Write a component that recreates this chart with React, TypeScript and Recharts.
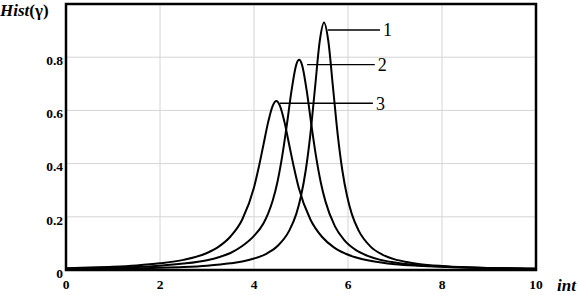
import React from 'react';
import { LineChart, Line, XAxis, YAxis, CartesianGrid, ReferenceArea, ReferenceLine } from 'recharts';

const xTicks = [0, 2, 4, 6, 8, 10];
const yTicks = [0, 0.2, 0.4, 0.6, 0.8];

const s1x = [0, 0.5, 1, 1.5, 2, 2.5, 3, 3.5, 3.75, 4, 4.25, 4.5, 4.75, 4.9, 5.0, 5.1, 5.2, 5.3, 5.4, 5.49, 5.58, 5.68, 5.78, 5.88, 5.98, 6.08, 6.23, 6.48, 6.73, 6.98, 7.25, 7.5, 8, 8.5, 9, 10];
const s1y = [0.0032, 0.0038, 0.0047, 0.006, 0.008, 0.011, 0.016, 0.025, 0.032, 0.043, 0.06, 0.09, 0.148, 0.211, 0.278, 0.374, 0.511, 0.688, 0.862, 0.93, 0.862, 0.688, 0.511, 0.374, 0.278, 0.211, 0.147, 0.088, 0.058, 0.041, 0.03, 0.023, 0.015, 0.0103, 0.0076, 0.0046];

const s2x = [0, 0.5, 1, 1.5, 2, 2.5, 3, 3.25, 3.5, 3.75, 4, 4.2, 4.3, 4.4, 4.5, 4.6, 4.7, 4.8, 4.9, 4.96, 5.02, 5.12, 5.22, 5.32, 5.42, 5.52, 5.72, 5.92, 6.17, 6.42, 6.67, 7, 7.5, 8, 9, 10];
const s2y = [0.005, 0.0065, 0.008, 0.011, 0.016, 0.024, 0.037, 0.048, 0.064, 0.09, 0.128, 0.175, 0.212, 0.262, 0.332, 0.428, 0.547, 0.676, 0.772, 0.79, 0.772, 0.676, 0.547, 0.427, 0.33, 0.258, 0.165, 0.112, 0.0745, 0.053, 0.039, 0.028, 0.018, 0.013, 0.0073, 0.0047];

const s3x = [0, 0.5, 1, 1.5, 2, 2.5, 3, 3.25, 3.5, 3.75, 4, 4.1, 4.2, 4.3, 4.4, 4.475, 4.55, 4.65, 4.75, 4.85, 4.95, 5.2, 5.45, 5.7, 5.95, 6.5, 7, 7.5, 8, 9, 10];
const s3y = [0.007, 0.009, 0.012, 0.017, 0.025, 0.038, 0.064, 0.088, 0.126, 0.19, 0.31, 0.385, 0.47, 0.555, 0.618, 0.635, 0.618, 0.555, 0.47, 0.385, 0.31, 0.19, 0.124, 0.085, 0.061, 0.034, 0.022, 0.016, 0.012, 0.007, 0.005];

const callouts = [
  { text: '1', x1: 5.57, x2: 6.68, y: 0.9025 },
  { text: '2', x1: 5.13, x2: 6.57, y: 0.772 },
  { text: '3', x1: 4.55, x2: 6.53, y: 0.627 },
];

const toData = (xs: number[], ys: number[]) => xs.map((x, i) => ({ x, v: ys[i] }));
const series = [toData(s1x, s1y), toData(s2x, s2y), toData(s3x, s3y)];

const serif = '"Liberation Serif", "DejaVu Serif", serif';

export default function App() {
  return (
    <div style={{ position: 'absolute', left: 0, top: 0 }}>
      <LineChart width={578} height={295} margin={{ top: 4, right: 42, bottom: 0, left: 6 }}>
        <CartesianGrid stroke="#d4d4d4" strokeWidth={1} />
        <XAxis
          type="number"
          dataKey="x"
          domain={[0, 10]}
          ticks={xTicks}
          allowDataOverflow
          height={25}
          tickSize={0}
          tickMargin={9}
          axisLine={false}
          tick={{ fill: '#000', fontFamily: serif, fontWeight: 'bold', fontSize: 13.5 }}
        />
        <YAxis
          type="number"
          domain={[0, 1]}
          ticks={yTicks}
          allowDataOverflow
          width={60}
          tickSize={0}
          tickMargin={3}
          axisLine={false}
          tickFormatter={(v: number) => String(v)}
          tick={{ fill: '#000', fontFamily: serif, fontWeight: 'bold', fontSize: 13.5, dy: 3 }}
        />
        {series.map((d, i) => (
          <Line
            key={i}
            data={d}
            dataKey="v"
            type="monotone"
            stroke="#000"
            strokeWidth={2}
            dot={false}
            isAnimationActive={false}
          />
        ))}
        {callouts.map((c) => (
          <ReferenceLine
            key={c.text}
            segment={[{ x: c.x1, y: c.y }, { x: c.x2, y: c.y }]}
            stroke="#000"
            strokeWidth={1.4}
            label={{ value: c.text, position: 'right', offset: 3, fill: '#000', fontFamily: serif, fontSize: 18 }}
          />
        ))}
        <ReferenceArea x1={0} x2={10} y1={0} y2={1} fill="none" stroke="#000" strokeWidth={2.5} fillOpacity={0} />
      </LineChart>
      <svg width={578} height={295} style={{ position: 'absolute', left: 0, top: 0, pointerEvents: 'none' }}>
        <text x={0} y={16} fontFamily={serif} fontSize={17} fontWeight="bold" fill="#000">
          <tspan fontStyle="italic">Hist</tspan>
          <tspan>(γ)</tspan>
        </text>
        <text x={557} y={291} fontFamily={serif} fontSize={17} fontWeight="bold" fontStyle="italic" fill="#000">
          int
        </text>
      </svg>
    </div>
  );
}
